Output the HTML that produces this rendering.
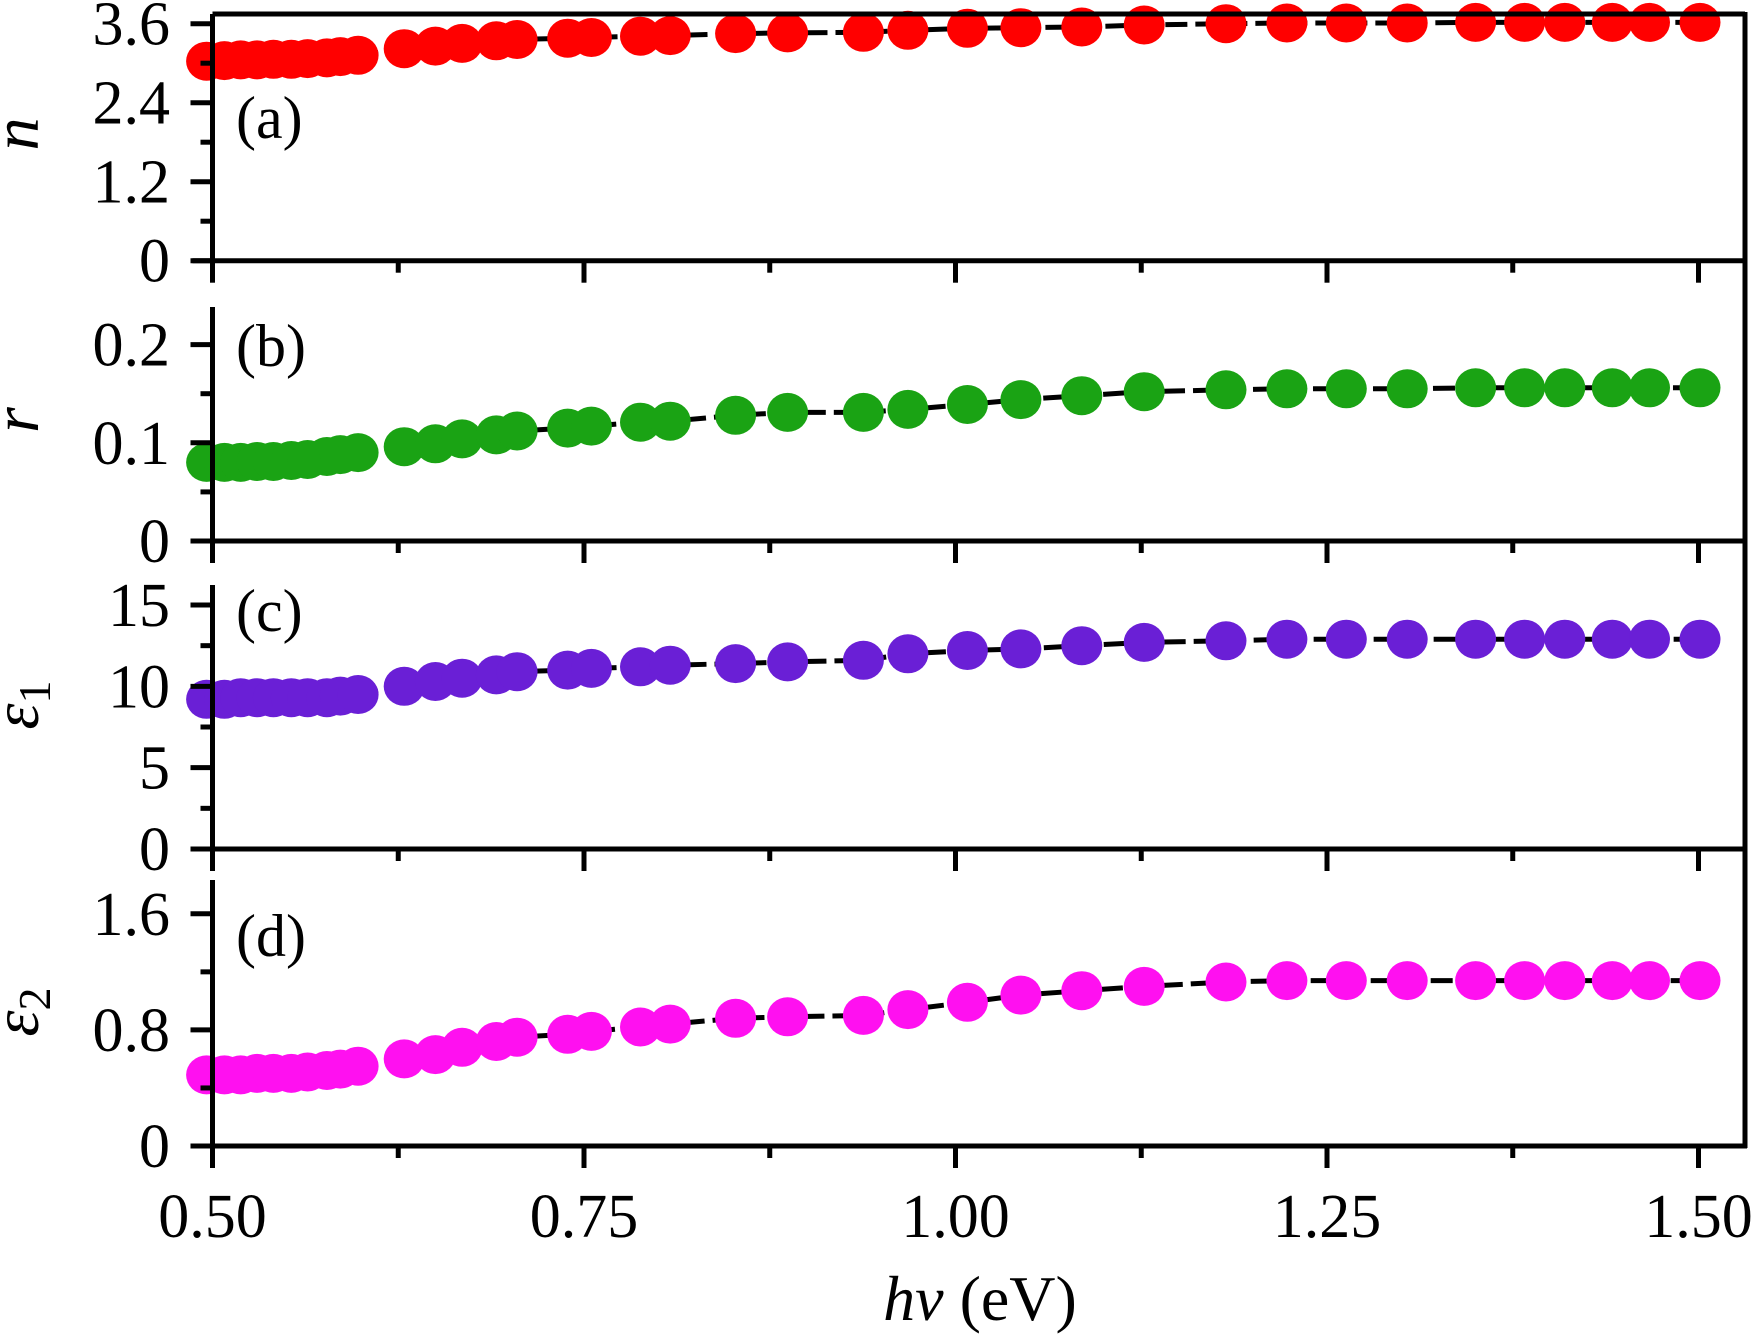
<!DOCTYPE html>
<html><head><meta charset="utf-8"><style>
html,body{margin:0;padding:0;background:#fff;}
svg{display:block;font-family:"Liberation Serif",serif;}
</style></head><body>
<svg id="chart" width="1754" height="1336" viewBox="0 0 1754 1336" xmlns="http://www.w3.org/2000/svg"></svg>
<script>
const energies = [0.496,0.508,0.519,0.530,0.541,0.553,0.564,0.577,0.586,0.598,0.629,0.650,0.668,0.691,0.705,0.739,0.755,0.788,0.808,0.852,0.887,0.938,0.968,1.008,1.044,1.085,1.127,1.182,1.223,1.263,1.304,1.350,1.383,1.410,1.442,1.467,1.501];
const nValues = [3.03,3.04,3.05,3.05,3.06,3.06,3.07,3.08,3.10,3.12,3.22,3.26,3.30,3.34,3.36,3.38,3.39,3.41,3.42,3.45,3.46,3.47,3.50,3.53,3.54,3.55,3.58,3.60,3.61,3.61,3.61,3.62,3.62,3.62,3.62,3.62,3.62];
const rValues = [0.080,0.080,0.080,0.081,0.081,0.082,0.083,0.086,0.088,0.090,0.096,0.099,0.104,0.108,0.112,0.115,0.117,0.121,0.122,0.128,0.131,0.131,0.134,0.139,0.144,0.148,0.152,0.154,0.155,0.155,0.155,0.156,0.156,0.156,0.156,0.156,0.156];
const eps1Values = [9.2,9.2,9.3,9.3,9.3,9.3,9.3,9.3,9.4,9.5,10.0,10.3,10.5,10.7,10.9,11.0,11.1,11.2,11.3,11.4,11.5,11.6,12.0,12.2,12.3,12.5,12.7,12.8,12.9,12.9,12.9,12.9,12.9,12.9,12.9,12.9,12.9];
const eps2Values = [0.49,0.49,0.49,0.50,0.50,0.50,0.51,0.52,0.53,0.55,0.60,0.63,0.68,0.72,0.75,0.77,0.79,0.82,0.84,0.88,0.89,0.90,0.94,0.99,1.04,1.07,1.10,1.13,1.14,1.14,1.14,1.14,1.14,1.14,1.14,1.14,1.14];
const xTicks = [0.50,0.75,1.00,1.25,1.50];
const xTickLabels = ["0.50","0.75","1.00","1.25","1.50"];
const nTicks = [0,1.2,2.4,3.6];
const nTickLabels = ["0","1.2","2.4","3.6"];
const rTicks = [0,0.1,0.2];
const rTickLabels = ["0","0.1","0.2"];
const eps1Ticks = [0,5,10,15];
const eps1TickLabels = ["0","5","10","15"];
const eps2Ticks = [0,0.8,1.6];
const eps2TickLabels = ["0","0.8","1.6"];

const NS="http://www.w3.org/2000/svg";
const svg=document.getElementById('chart');
function mk(tag,attrs,parent){const e=document.createElementNS(NS,tag);for(const k in attrs)e.setAttribute(k,attrs[k]);(parent||svg).appendChild(e);return e;}
const X0=212.5,X1=1745;
function xScale(v){return 212.5+(v-0.5)*1486;}

const panels=[
 {key:'n',label:'(a)',vals:nValues,ticks:nTicks,tl:nTickLabels,minor:0.6,top:14,bottom:260.7,ymax:3.6,ymaxPx:23.7,color:'#ff0000',ylab:'n',ylabY:134,sub:'',ly:135},
 {key:'r',label:'(b)',vals:rValues,ticks:rTicks,tl:rTickLabels,minor:0.05,top:307,bottom:541,ymax:0.2,ymaxPx:344.6,color:'#1aa314',ylab:'r',ylabY:420,sub:'',ly:363},
 {key:'eps1',label:'(c)',vals:eps1Values,ticks:eps1Ticks,tl:eps1TickLabels,minor:2.5,top:585,bottom:849,ymax:15,ymaxPx:605,color:'#6a1fd6',ylab:'ε',ylabY:705,sub:'1',ly:628},
 {key:'eps2',label:'(d)',vals:eps2Values,ticks:eps2Ticks,tl:eps2TickLabels,minor:0.4,top:880,bottom:1146,ymax:1.6,ymaxPx:913.8,color:'#ff10f0',ylab:'ε',ylabY:1012,sub:'2',ly:953}
];

panels.forEach((p,pi)=>{
  const g=mk('g',{});
  
  
  const yS=v=>p.bottom-(v/p.ymax)*(p.bottom-p.ymaxPx);
  const pts=energies.map((e,i)=>xScale(e).toFixed(1)+','+yS(p.vals[i]).toFixed(1)).join(' ');
  const line=mk('polyline',{points:pts,fill:'none',stroke:'#000','stroke-width':5,'stroke-dasharray':'22 8'},g);
  
  
  energies.forEach((e,i)=>{
    const c=mk('ellipse',{cx:xScale(e).toFixed(1),cy:yS(p.vals[i]).toFixed(1),rx:20.5,ry:19.5,fill:p.color},g);
    
    
  });
  const ax=mk('g',{stroke:'#000','stroke-width':5,fill:'none'},g);
  
  
  mk('line',{x1:X0,y1:p.top,x2:X0,y2:p.bottom+2},ax);
  mk('line',{x1:X0-20,y1:p.bottom,x2:X1+2,y2:p.bottom},ax);
  if(pi===0) mk('line',{x1:X0,y1:p.top,x2:X1,y2:p.top},ax);
  const nMinor=Math.round(p.ymax/p.minor);
  for(let k=0;k<=nMinor;k++){
    const v=k*p.minor, major=p.ticks.some(t=>Math.abs(t-v)<1e-9);
    mk('line',{x1:X0-(major?22:12),y1:yS(v),x2:X0,y2:yS(v)},ax);
  }
  p.ticks.forEach((t,i)=>{
    const tx=mk('text',{x:170,y:yS(t)+21,'text-anchor':'end','font-size':62,fill:'#000'},g);
    tx.textContent=p.tl[i];
    
    
  });
  for(let k=0;k<=8;k++){
    const v=0.5+k*0.125, major=k%2===0;
    mk('line',{x1:xScale(v),y1:p.bottom,x2:xScale(v),y2:p.bottom+(major?22:12)},ax);
  }
  const pl=mk('text',{x:236,y:p.ly+3,'font-size':60,fill:'#000'},g);
  pl.textContent=p.label;
  
  
  const yl=mk('text',{transform:'translate(38,'+p.ylabY+') rotate(-90)','text-anchor':'middle','font-size':66,'font-style':'italic',fill:'#000'},g);
  
  
  yl.textContent=p.ylab;
  if(p.sub){const ts=mk('tspan',{'font-style':'normal','font-size':46,dy:12},yl);ts.textContent=p.sub;}
});
const rb=mk('line',{x1:X1,y1:12,x2:X1,y2:1148,stroke:'#000','stroke-width':5});


xTicks.forEach((t,i)=>{
  const tx=mk('text',{x:xScale(t),y:1237,'text-anchor':'middle','font-size':62,fill:'#000'});
  tx.textContent=xTickLabels[i];
  
  
});
const xt=mk('text',{x:980,y:1320,'text-anchor':'middle','font-size':64,fill:'#000'});


const t1=mk('tspan',{'font-style':'italic'},xt);t1.textContent='hν ';
const t2=mk('tspan',{},xt);t2.textContent='(eV)';
</script>
</body></html>
